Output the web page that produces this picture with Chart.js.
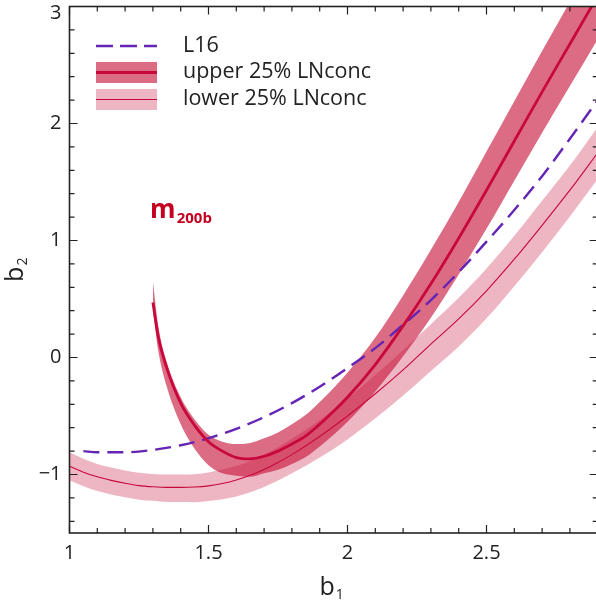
<!DOCTYPE html>
<html>
<head>
<meta charset="utf-8">
<script src="https://cdn.jsdelivr.net/npm/chart.js@4.4.1/dist/chart.umd.min.js"></script>
<style>
  html, body { margin: 0; padding: 0; background: #fff; overflow: hidden; }
  #wrap { width: 600px; height: 605px; }
</style>
</head>
<body>
<div id="wrap"><canvas id="chart" width="600" height="605"></canvas></div>
<script>
// L16 fit (dashed)
const l16X = [1.05, 1.10, 1.20, 1.30, 1.40, 1.50, 1.60, 1.70, 1.80, 1.90, 2.00, 2.10, 2.20, 2.30, 2.40, 2.50, 2.60, 2.70, 2.80, 2.90];
const l16Y = [-0.80, -0.81, -0.81, -0.79, -0.75, -0.69, -0.61, -0.51, -0.39, -0.25, -0.09, 0.08, 0.28, 0.49, 0.73, 0.99, 1.26, 1.55, 1.87, 2.20];

// upper 25% LNconc: centre line and band edges
const upX   = [1.30, 1.32, 1.35, 1.40, 1.45, 1.50, 1.55, 1.60, 1.65, 1.70, 1.75, 1.80, 1.85, 1.90, 1.95, 2.00, 2.10, 2.20, 2.30, 2.40, 2.50, 2.60, 2.70, 2.80, 2.90];
const upMid = [0.47, 0.17, -0.09, -0.39, -0.58, -0.72, -0.80, -0.855, -0.866, -0.844, -0.80, -0.74, -0.67, -0.57, -0.46, -0.34, -0.06, 0.27, 0.63, 1.02, 1.43, 1.85, 2.27, 2.68, 3.09];
const upHi  = [0.65, 0.26, -0.04, -0.34, -0.53, -0.66, -0.72, -0.74, -0.73, -0.69, -0.64, -0.57, -0.49, -0.38, -0.26, -0.13, 0.17, 0.53, 0.92, 1.33, 1.76, 2.19, 2.62, 3.04, 3.46];
const upLo  = [0.40, 0.05, -0.25, -0.57, -0.78, -0.92, -0.99, -1.01, -1.02, -0.99, -0.96, -0.91, -0.85, -0.76, -0.66, -0.55, -0.29, 0.01, 0.34, 0.71, 1.10, 1.51, 1.92, 2.32, 2.72];

// lower 25% LNconc: centre line and band edges
const loX   = [1.00, 1.05, 1.10, 1.15, 1.20, 1.25, 1.30, 1.35, 1.40, 1.45, 1.50, 1.55, 1.60, 1.65, 1.70, 1.75, 1.80, 1.90, 2.00, 2.10, 2.20, 2.30, 2.40, 2.50, 2.60, 2.70, 2.80, 2.90];
const loMid = [-0.93, -0.98, -1.02, -1.05, -1.075, -1.095, -1.105, -1.11, -1.11, -1.107, -1.097, -1.077, -1.047, -1.007, -0.957, -0.897, -0.83, -0.675, -0.50, -0.31, -0.105, 0.115, 0.33, 0.57, 0.84, 1.13, 1.43, 1.75];
const loHi  = [-0.81, -0.865, -0.91, -0.94, -0.965, -0.985, -0.995, -1.00, -1.00, -0.997, -0.982, -0.957, -0.927, -0.887, -0.832, -0.767, -0.695, -0.535, -0.35, -0.15, 0.065, 0.285, 0.51, 0.76, 1.04, 1.34, 1.64, 1.97];
const loLo  = [-1.05, -1.10, -1.14, -1.17, -1.195, -1.215, -1.225, -1.235, -1.235, -1.237, -1.227, -1.212, -1.187, -1.152, -1.107, -1.052, -0.99, -0.855, -0.70, -0.52, -0.325, -0.115, 0.095, 0.335, 0.61, 0.90, 1.205, 1.525];

// axis ticks
const xMajor = [1, 1.5, 2, 2.5];
const xMajorLabels = ['1', '1.5', '2', '2.5'];
const yMajor = [-1, 0, 1, 2, 3];
const yMajorLabels = ['\u22121', '0', '1', '2', '3'];

const legendLabels = ['L16', 'upper 25% LNconc', 'lower 25% LNconc'];

const PURPLE = '#6424b4';
const CRIMSON = '#c8083c';
const BAND_UP = 'rgba(200,20,60,0.63)';
const BAND_LO = 'rgba(200,20,60,0.31)';
const INK = '#222';

const pts = (xs, ys) => xs.map((x, i) => ({ x: x, y: ys[i] }));

const line = (data, color, width, order, dash) => ({
    data: data, borderColor: color, borderWidth: width, borderDash: dash || [],
    pointRadius: 0, fill: false, cubicInterpolationMode: 'monotone', order: order
});
const bandTop = (data, color, order) => ({
    data: data, borderWidth: 0, borderColor: 'transparent', backgroundColor: color,
    pointRadius: 0, fill: '+1', cubicInterpolationMode: 'monotone', order: order
});
const bandBottom = (data, order) => ({
    data: data, borderWidth: 0, borderColor: 'transparent',
    pointRadius: 0, fill: false, cubicInterpolationMode: 'monotone', order: order
});

function sub(ctx, base, small, x, y, baseFont, smallFont, drop) {
    ctx.font = baseFont;
    ctx.fillText(base, x, y);
    const w = ctx.measureText(base).width;
    ctx.font = smallFont;
    ctx.fillText(small, x + w + 1, y + drop);
    return w + 1 + ctx.measureText(small).width;
}

const framePlugin = {
    id: 'frame',
    afterDraw(chart) {
        const { ctx, chartArea: a, scales: { x, y } } = chart;
        ctx.save();
        ctx.strokeStyle = INK;
        ctx.lineWidth = 1.6;
        ctx.strokeRect(a.left, a.top, a.right - a.left, a.bottom - a.top);

        ctx.lineWidth = 1.2;
        ctx.beginPath();
        for (let i = 0; i <= 19; i++) {
            const v = 1 + i * 0.1;
            const px = x.getPixelForValue(v);
            const major = xMajor.some(m => Math.abs(m - v) < 1e-6);
            const len = major ? 8 : 5;
            ctx.moveTo(px, a.bottom); ctx.lineTo(px, a.bottom - len);
            ctx.moveTo(px, a.top); ctx.lineTo(px, a.top + len);
        }
        for (let i = 0; i <= 22; i++) {
            const v = -1.4 + i * 0.2;
            const py = y.getPixelForValue(v);
            const major = yMajor.some(m => Math.abs(m - v) < 1e-6);
            const len = major ? 8 : 5;
            ctx.moveTo(a.left, py); ctx.lineTo(a.left + len, py);
            ctx.moveTo(a.right, py); ctx.lineTo(a.right - len, py);
        }
        ctx.stroke();

        // tick labels
        ctx.fillStyle = INK;
        ctx.font = '20px "Open Sans"';
        ctx.textAlign = 'center';
        ctx.textBaseline = 'middle';
        xMajor.forEach((v, i) => ctx.fillText(xMajorLabels[i], x.getPixelForValue(v), 553));
        ctx.textAlign = 'right';
        yMajor.forEach((v, i) => {
            const py = Math.max(y.getPixelForValue(v), a.top + 7);
            ctx.fillText(yMajorLabels[i], a.left - 8, py);
        });

        // axis titles
        ctx.textAlign = 'left';
        ctx.textBaseline = 'alphabetic';
        ctx.font = '25px "Open Sans"';
        const bw = ctx.measureText('b').width;
        ctx.font = '14px "Open Sans"';
        const sw = ctx.measureText('1').width;
        const cx = (a.left + a.right) / 2 - 2;
        sub(ctx, 'b', '1', cx - (bw + sw + 1) / 2, 595, '25px "Open Sans"', '14px "Open Sans"', 4);
        ctx.save();
        ctx.translate(23, (a.top + a.bottom) / 2);
        ctx.rotate(-Math.PI / 2);
        sub(ctx, 'b', '2', -(bw + sw + 1) / 2, 0, '25px "Open Sans"', '14px "Open Sans"', 4);
        ctx.restore();

        // annotation
        ctx.fillStyle = '#c4001e';
        sub(ctx, 'm', '200b', x.getPixelForValue(1.29), y.getPixelForValue(1.19), 'bold 26px "Open Sans"', 'bold 15px "Open Sans"', 5);

        // legend
        const lx0 = 96, lx1 = 157, tx = 183;
        ctx.strokeStyle = PURPLE;
        ctx.lineWidth = 2.4;
        ctx.setLineDash([17, 7]);
        ctx.beginPath(); ctx.moveTo(lx0, 46); ctx.lineTo(lx1, 46); ctx.stroke();
        ctx.setLineDash([]);
        ctx.fillStyle = BAND_UP;
        ctx.fillRect(lx0, 62, lx1 - lx0, 21);
        ctx.strokeStyle = CRIMSON;
        ctx.lineWidth = 2.8;
        ctx.beginPath(); ctx.moveTo(lx0, 72.5); ctx.lineTo(lx1, 72.5); ctx.stroke();
        ctx.fillStyle = BAND_LO;
        ctx.fillRect(lx0, 89, lx1 - lx0, 21);
        ctx.lineWidth = 1.2;
        ctx.beginPath(); ctx.moveTo(lx0, 99.5); ctx.lineTo(lx1, 99.5); ctx.stroke();
        ctx.fillStyle = INK;
        ctx.font = '21.5px "Open Sans"';
        ctx.textBaseline = 'middle';
        ctx.fillText(legendLabels[0], tx, 46);
        ctx.fillText(legendLabels[1], tx, 72);
        ctx.fillText(legendLabels[2], tx, 99);
        ctx.restore();
    }
};

new Chart(document.getElementById('chart'), {
    type: 'line',
    data: {
        datasets: [
            line(pts(upX, upMid), CRIMSON, 2.8, 0),
            line(pts(l16X, l16Y), PURPLE, 2.4, 1, [16, 8]),
            line(pts(loX, loMid), CRIMSON, 1.1, 2),
            bandTop(pts(upX, upHi), BAND_UP, 3),
            bandBottom(pts(upX, upLo), 3),
            bandTop(pts(loX, loHi), BAND_LO, 4),
            bandBottom(pts(loX, loLo), 4)
        ]
    },
    options: {
        responsive: false,
        animation: false,
        layout: { padding: { top: 6.5, right: 2.3, left: 0, bottom: 0 } },
        plugins: { legend: { display: false }, tooltip: { enabled: false } },
        scales: {
            x: {
                type: 'linear', min: 1, max: 2.9,
                grid: { display: false }, border: { display: false },
                ticks: { display: false },
                afterFit: s => { s.height = 72; }
            },
            y: {
                type: 'linear', min: -1.5, max: 3,
                grid: { display: false }, border: { display: false },
                ticks: { display: false },
                afterFit: s => { s.width = 69.5; }
            }
        }
    },
    plugins: [framePlugin]
});
</script>
</body>
</html>
